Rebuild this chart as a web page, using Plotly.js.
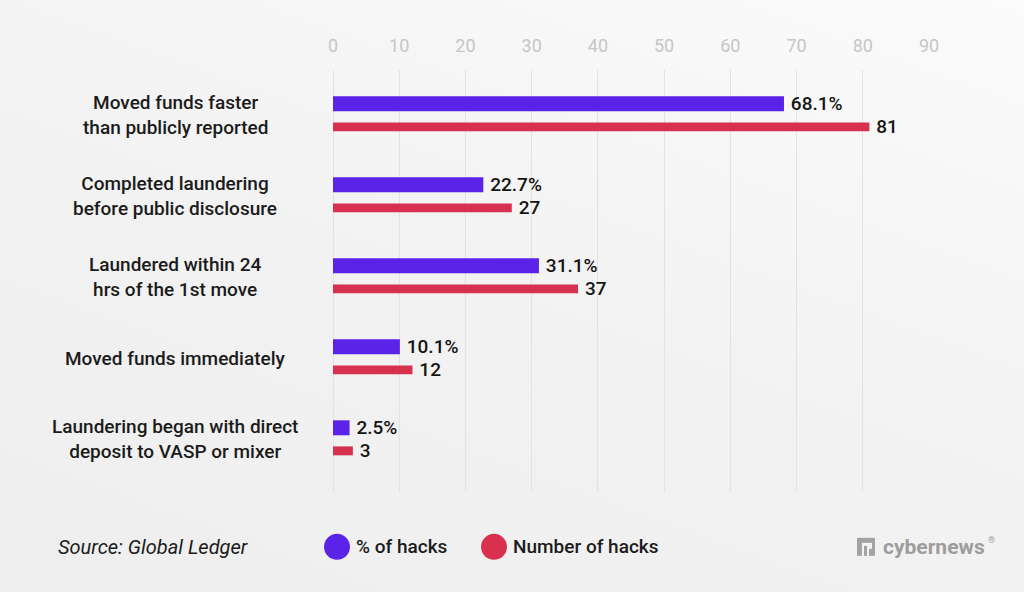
<!DOCTYPE html>
<html>
<head>
<meta charset="utf-8">
<script src="https://cdn.plot.ly/plotly-3.0.1.min.js"></script>
<style>
  html, body { margin: 0; padding: 0; }
  body { width: 1024px; height: 592px; background: linear-gradient(200deg, #fbfbfb 0%, #f3f3f3 45%, #eeeeee 100%); }
  #chart { width: 1024px; height: 592px; }
</style>
</head>
<body>
<div id="chart"></div>
<script>
// Laundering behaviour after crypto hacks
const categories = [
  'Moved funds faster<br>than publicly reported',
  'Completed laundering<br>before public disclosure',
  'Laundered within 24<br>hrs of the 1st move',
  'Moved funds immediately',
  'Laundering began with direct<br>deposit to VASP or mixer'
];
const pctOfHacks = [68.1, 22.7, 31.1, 10.1, 2.5];
const numberOfHacks = [81, 27, 37, 12, 3];
const seriesNames = ['% of hacks', 'Number of hacks'];
const tickValues = [0, 10, 20, 30, 40, 50, 60, 70, 80, 90];

const PURPLE = '#5b23e8';
const RED = '#d8304f';
const FONT = 'Roboto, "Open Sans", sans-serif';

const traces = [
  {
    type: 'bar', orientation: 'h', name: seriesNames[0],
    y: categories, x: pctOfHacks,
    width: 0.185, offset: -0.235,
    marker: { color: PURPLE },
    text: pctOfHacks.map(v => '\u2009' + v.toFixed(1) + '%'),
    textposition: 'outside', constraintext: 'none', cliponaxis: false,
    textfont: { family: FONT, size: 19, color: '#141414', weight: 500 },
    hoverinfo: 'skip', showlegend: false
  },
  {
    type: 'bar', orientation: 'h', name: seriesNames[1],
    y: categories, x: numberOfHacks,
    width: 0.11, offset: 0.087,
    marker: { color: RED },
    text: numberOfHacks.map(v => '\u2009' + v),
    textposition: 'outside', constraintext: 'none', cliponaxis: false,
    textfont: { family: FONT, size: 19, color: '#141414', weight: 500 },
    hoverinfo: 'skip', showlegend: false
  }
];

// Category labels, centred in the left margin
const annotations = categories.map(c => ({
  xref: 'paper', yref: 'y', x: -0.265, y: c,
  text: c, showarrow: false, xanchor: 'center', yanchor: 'middle', align: 'center',
  font: { family: FONT, size: 19, color: '#1b1b1b', weight: 500 }
}));

const footerY = -0.130;

// Footer: source, legend, logo
annotations.push({
  xref: 'paper', yref: 'paper', x: -0.465, y: footerY, xanchor: 'left', yanchor: 'middle',
  text: '<i>Source: Global Ledger</i>', showarrow: false,
  font: { family: FONT, size: 20, color: '#1b1b1b' }
});
annotations.push({
  xref: 'paper', yref: 'paper', x: (354 - 333) / 596, y: footerY, xanchor: 'left', yanchor: 'middle',
  text: seriesNames[0], showarrow: false,
  font: { family: FONT, size: 19, color: '#1b1b1b', weight: 500 }
});
annotations.push({
  xref: 'paper', yref: 'paper', x: (511 - 333) / 596, y: footerY, xanchor: 'left', yanchor: 'middle',
  text: seriesNames[1], showarrow: false,
  font: { family: FONT, size: 19, color: '#1b1b1b', weight: 500 }
});
annotations.push({
  xref: 'paper', yref: 'paper', x: (881 - 333) / 596, y: footerY, xanchor: 'left', yanchor: 'middle',
  text: '<b>cybernews</b>', showarrow: false,
  font: { family: FONT, size: 21, color: '#9d9d9d' }
});
annotations.push({
  xref: 'paper', yref: 'paper', x: (986 - 333) / 596, y: footerY + 0.016, xanchor: 'left', yanchor: 'middle',
  text: '®', showarrow: false,
  font: { family: FONT, size: 9, color: '#9d9d9d' }
});

const shapes = [
  { type: 'circle', xref: 'paper', yref: 'paper', xsizemode: 'pixel', ysizemode: 'pixel',
    xanchor: (337 - 333) / 596, yanchor: footerY, x0: -13, x1: 13, y0: -13, y1: 13,
    fillcolor: PURPLE, line: { width: 0 } },
  { type: 'circle', xref: 'paper', yref: 'paper', xsizemode: 'pixel', ysizemode: 'pixel',
    xanchor: (494 - 333) / 596, yanchor: footerY, x0: -13, x1: 13, y0: -13, y1: 13,
    fillcolor: RED, line: { width: 0 } },
  // logo mark
  { type: 'rect', xref: 'paper', yref: 'paper', xsizemode: 'pixel', ysizemode: 'pixel',
    xanchor: (866 - 333) / 596, yanchor: footerY, x0: -9, x1: 9, y0: -9, y1: 9,
    fillcolor: '#a3a3a3', line: { width: 0 } },
  { type: 'rect', xref: 'paper', yref: 'paper', xsizemode: 'pixel', ysizemode: 'pixel',
    xanchor: (866 - 333) / 596, yanchor: footerY, x0: -4, x1: 6, y0: -9, y1: 4,
    fillcolor: '#f3f3f3', line: { width: 0 } },
  { type: 'rect', xref: 'paper', yref: 'paper', xsizemode: 'pixel', ysizemode: 'pixel',
    xanchor: (866 - 333) / 596, yanchor: footerY, x0: -2, x1: 1, y0: -9, y1: 1,
    fillcolor: '#a3a3a3', line: { width: 0 } },
  { type: 'rect', xref: 'paper', yref: 'paper', xsizemode: 'pixel', ysizemode: 'pixel',
    xanchor: (866 - 333) / 596, yanchor: footerY, x0: 3, x1: 6, y0: -9, y1: -2,
    fillcolor: '#a3a3a3', line: { width: 0 } }
];

const layout = {
  width: 1024, height: 592,
  margin: { l: 333, r: 95, t: 70, b: 100, pad: 0 },
  paper_bgcolor: 'rgba(0,0,0,0)',
  plot_bgcolor: 'rgba(0,0,0,0)',
  barmode: 'overlay',
  showlegend: false,
  font: { family: FONT },
  xaxis: {
    side: 'top', range: [0, 90], tickvals: tickValues, ticktext: tickValues.map(String),
    showgrid: true, gridcolor: '#e3e3e3', gridwidth: 1,
    zeroline: true, zerolinecolor: '#e3e3e3', zerolinewidth: 1,
    showline: false, ticks: '', ticklabelstandoff: 13,
    tickfont: { family: FONT, size: 18, color: '#c6c6c6' },
    fixedrange: true
  },
  yaxis: {
    type: 'category', range: [4.65, -0.56],
    showticklabels: false, showgrid: false, zeroline: false, showline: false, ticks: '',
    fixedrange: true
  },
  annotations: annotations,
  shapes: shapes
};

Plotly.newPlot('chart', traces, layout, { displayModeBar: false, staticPlot: true });
</script>
</body>
</html>
